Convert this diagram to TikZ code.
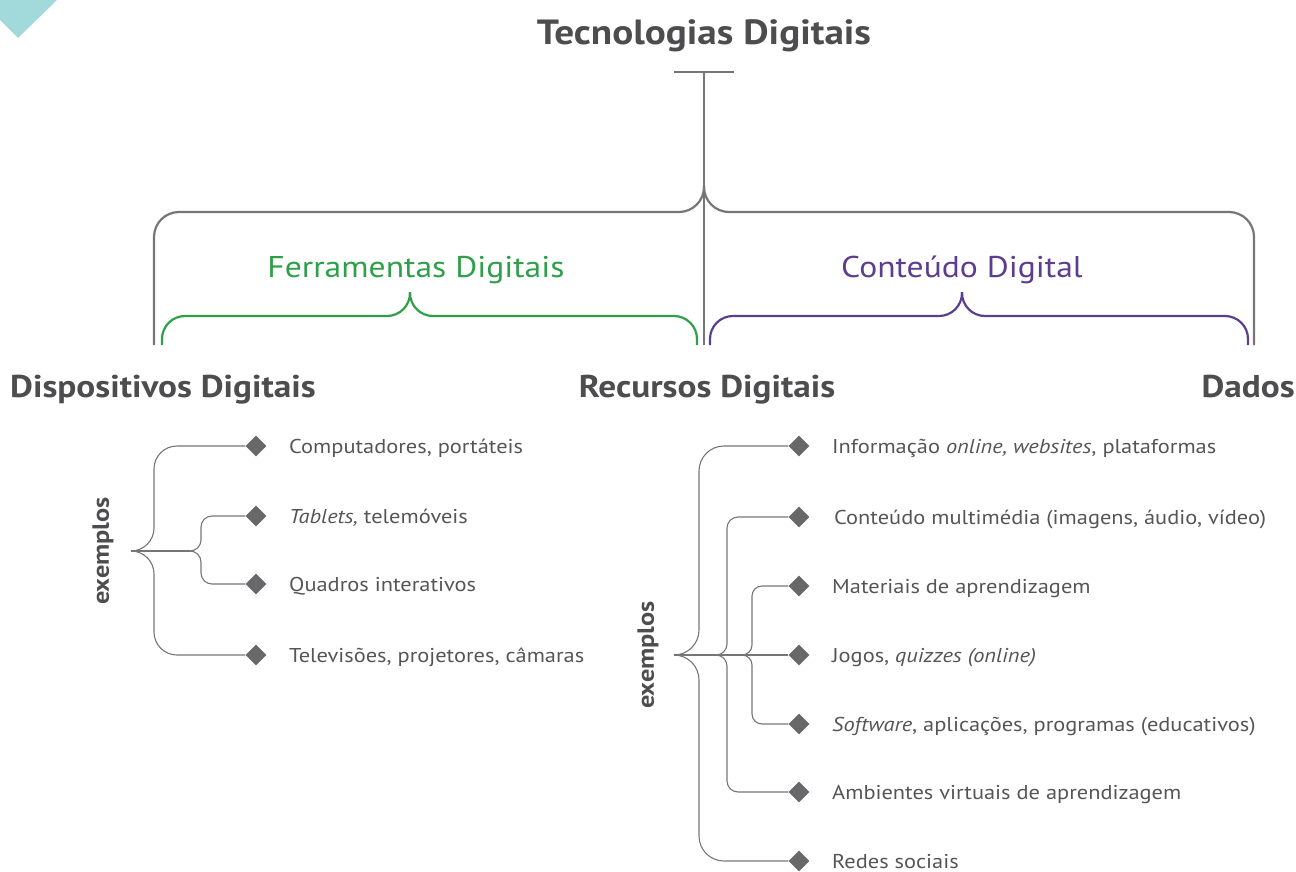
\documentclass[tikz,border=0pt]{standalone}
\usepackage{fontspec}
\setmainfont{PT Sans}[FakeStretch=1.12]
\usetikzlibrary{shapes.geometric,calc}
\definecolor{lg}{HTML}{767676}
\definecolor{tx}{HTML}{4D4D4F}
\definecolor{itx}{HTML}{555557}
\definecolor{dm}{HTML}{68686A}
\definecolor{gr}{HTML}{2FA04A}
\definecolor{pu}{HTML}{5C3D8F}
\definecolor{te}{HTML}{A2D9DB}
\begin{document}
\begin{tikzpicture}[x=1pt,y=-1pt,
  bigline/.style={draw=lg, line width=2.2pt},
  gbrace/.style={draw=gr, line width=2.2pt, rounded corners=23pt},
  pbrace/.style={draw=pu, line width=2.2pt, rounded corners=23pt},
  tline/.style={draw=lg, line width=1.1pt},
  dia/.style={diamond, fill=dm, minimum width=21pt, minimum height=21pt, inner sep=0pt},
  item/.style={anchor=base west, inner sep=0pt, text=itx, font=\fontsize{20}{24}\selectfont},
  head/.style={inner sep=0pt, text=tx, font=\fontsize{31.5}{36}\selectfont\bfseries},
  sub/.style={inner sep=0pt, font=\fontsize{30}{36}\selectfont},
  ex/.style={inner sep=0pt, rotate=90, text=tx, font=\fontsize{23.5}{28}\selectfont\bfseries}
]
\useasboundingbox (0,0) rectangle (1296,872);
% teal corner
\fill[te] (0,0) -- (57,0) -- (18,38) -- (0,20) -- cycle;

% title
\node[head, font=\fontsize{35}{40}\selectfont\bfseries, anchor=base] (title) at (704,45) {Tecnologias Digitais};

% coordinates of the big brace
\coordinate (tbL) at (674,72);
\coordinate (tbR) at (734,72);
\coordinate (stemTop) at (704,72);
\coordinate (stemBot) at (704,345);
\coordinate (gcusp) at (704,186);
\coordinate (gL) at (154,345);
\coordinate (gR) at (1254,345);
\draw[bigline] (tbL) -- (tbR);
\draw[bigline] (stemTop) -- (stemBot);
\draw[bigline, rounded corners=25pt] (gL) |- (gcusp |- 0,212) -- (gcusp);
\draw[bigline, rounded corners=25pt] (gR) |- (gcusp |- 0,212) -- (gcusp);

% green brace
\coordinate (fcusp) at (410,292);
\coordinate (fL) at (162,345);
\coordinate (fR) at (697,345);
\draw[gbrace] (fL) |- (fcusp |- 0,316) -- (fcusp);
\draw[gbrace] (fR) |- (fcusp |- 0,316) -- (fcusp);
\node[sub, text=gr, anchor=base] (ferr) at (416,277) {Ferramentas Digitais};

% purple brace
\coordinate (ccusp) at (962,292);
\coordinate (cL) at (710,345);
\coordinate (cR) at (1248,345);
\draw[pbrace] (cL) |- (ccusp |- 0,316) -- (ccusp);
\draw[pbrace] (cR) |- (ccusp |- 0,316) -- (ccusp);
\node[sub, text=pu, anchor=base] (cont) at (962,277) {Conteúdo Digital};

% headings
\node[head, anchor=base west] (disp) at (10,397) {Dispositivos Digitais};
\node[head, anchor=base] (recu) at (707,397) {Recursos Digitais};
\node[head, anchor=base east] (dados) at (1295,397) {Dados};

% left tree
\node[ex] (exL) at (103,551) {exemplos};
\coordinate (rL) at (131,551);
\coordinate (vL1) at (154,551);
\coordinate (cL2) at (190,551);
\coordinate (vL2) at (201,551);
\node[dia] (dL1) at (256,446) {};
\node[dia] (dL2) at (256,516) {};
\node[dia] (dL3) at (256,584) {};
\node[dia] (dL4) at (256,655) {};
\draw[tline, rounded corners=23pt] (rL) -| (vL1 |- dL1) -- (dL1.west);
\draw[tline, rounded corners=23pt] (rL) -| (vL1 |- dL4) -- (dL4.west);
\draw[tline] (rL) -- (cL2);
\draw[tline, rounded corners=11pt] (cL2) -| (vL2 |- dL2) -- (dL2.west);
\draw[tline, rounded corners=11pt] (cL2) -| (vL2 |- dL3) -- (dL3.west);
\node[item] (tL1) at (289,453) {Computadores, portáteis};
\node[item] (tL2) at (289,523) {\textit{Tablets,} telemóveis};
\node[item] (tL3) at (289,591) {Quadros interativos};
\node[item] (tL4) at (289,662) {Televisões, projetores, câmaras};

% right tree
\node[ex] (exR) at (648,655) {exemplos};
\coordinate (rR) at (674,655);
\coordinate (vR1) at (699,655);
\coordinate (cR2) at (716,655);
\coordinate (vR2) at (727,655);
\coordinate (cR3) at (742,655);
\coordinate (vR3) at (752,655);
\node[dia] (dR1) at (799,446) {};
\node[dia] (dR2) at (799,517) {};
\node[dia] (dR3) at (799,586) {};
\node[dia] (dR4) at (799,655) {};
\node[dia] (dR5) at (799,724) {};
\node[dia] (dR6) at (799,792) {};
\node[dia] (dR7) at (799,861) {};
\draw[tline, rounded corners=25pt] (rR) -| (vR1 |- dR1) -- (dR1.west);
\draw[tline, rounded corners=25pt] (rR) -| (vR1 |- dR7) -- (dR7.west);
\draw[tline, rounded corners=11pt] (cR2) -| (vR2 |- dR2) -- (dR2.west);
\draw[tline, rounded corners=11pt] (cR2) -| (vR2 |- dR6) -- (dR6.west);
\draw[tline, rounded corners=10pt] (cR3) -| (vR3 |- dR3) -- (dR3.west);
\draw[tline, rounded corners=10pt] (cR3) -| (vR3 |- dR5) -- (dR5.west);
\draw[tline] (rR) -- (dR4.west);
\node[item] (tR1) at (832,453) {Informação \textit{online, websites}, plataformas};
\node[item] (tR2) at (834,524) {Conteúdo multimédia (imagens, áudio, vídeo)};
\node[item] (tR3) at (832,593) {Materiais de aprendizagem};
\node[item] (tR4) at (832,662) {Jogos, \textit{quizzes (online)}};
\node[item] (tR5) at (832,731) {\textit{Software}, aplicações, programas (educativos)};
\node[item] (tR6) at (832,799) {Ambientes virtuais de aprendizagem};
\node[item] (tR7) at (832,868) {Redes sociais};
\end{tikzpicture}
\end{document}
